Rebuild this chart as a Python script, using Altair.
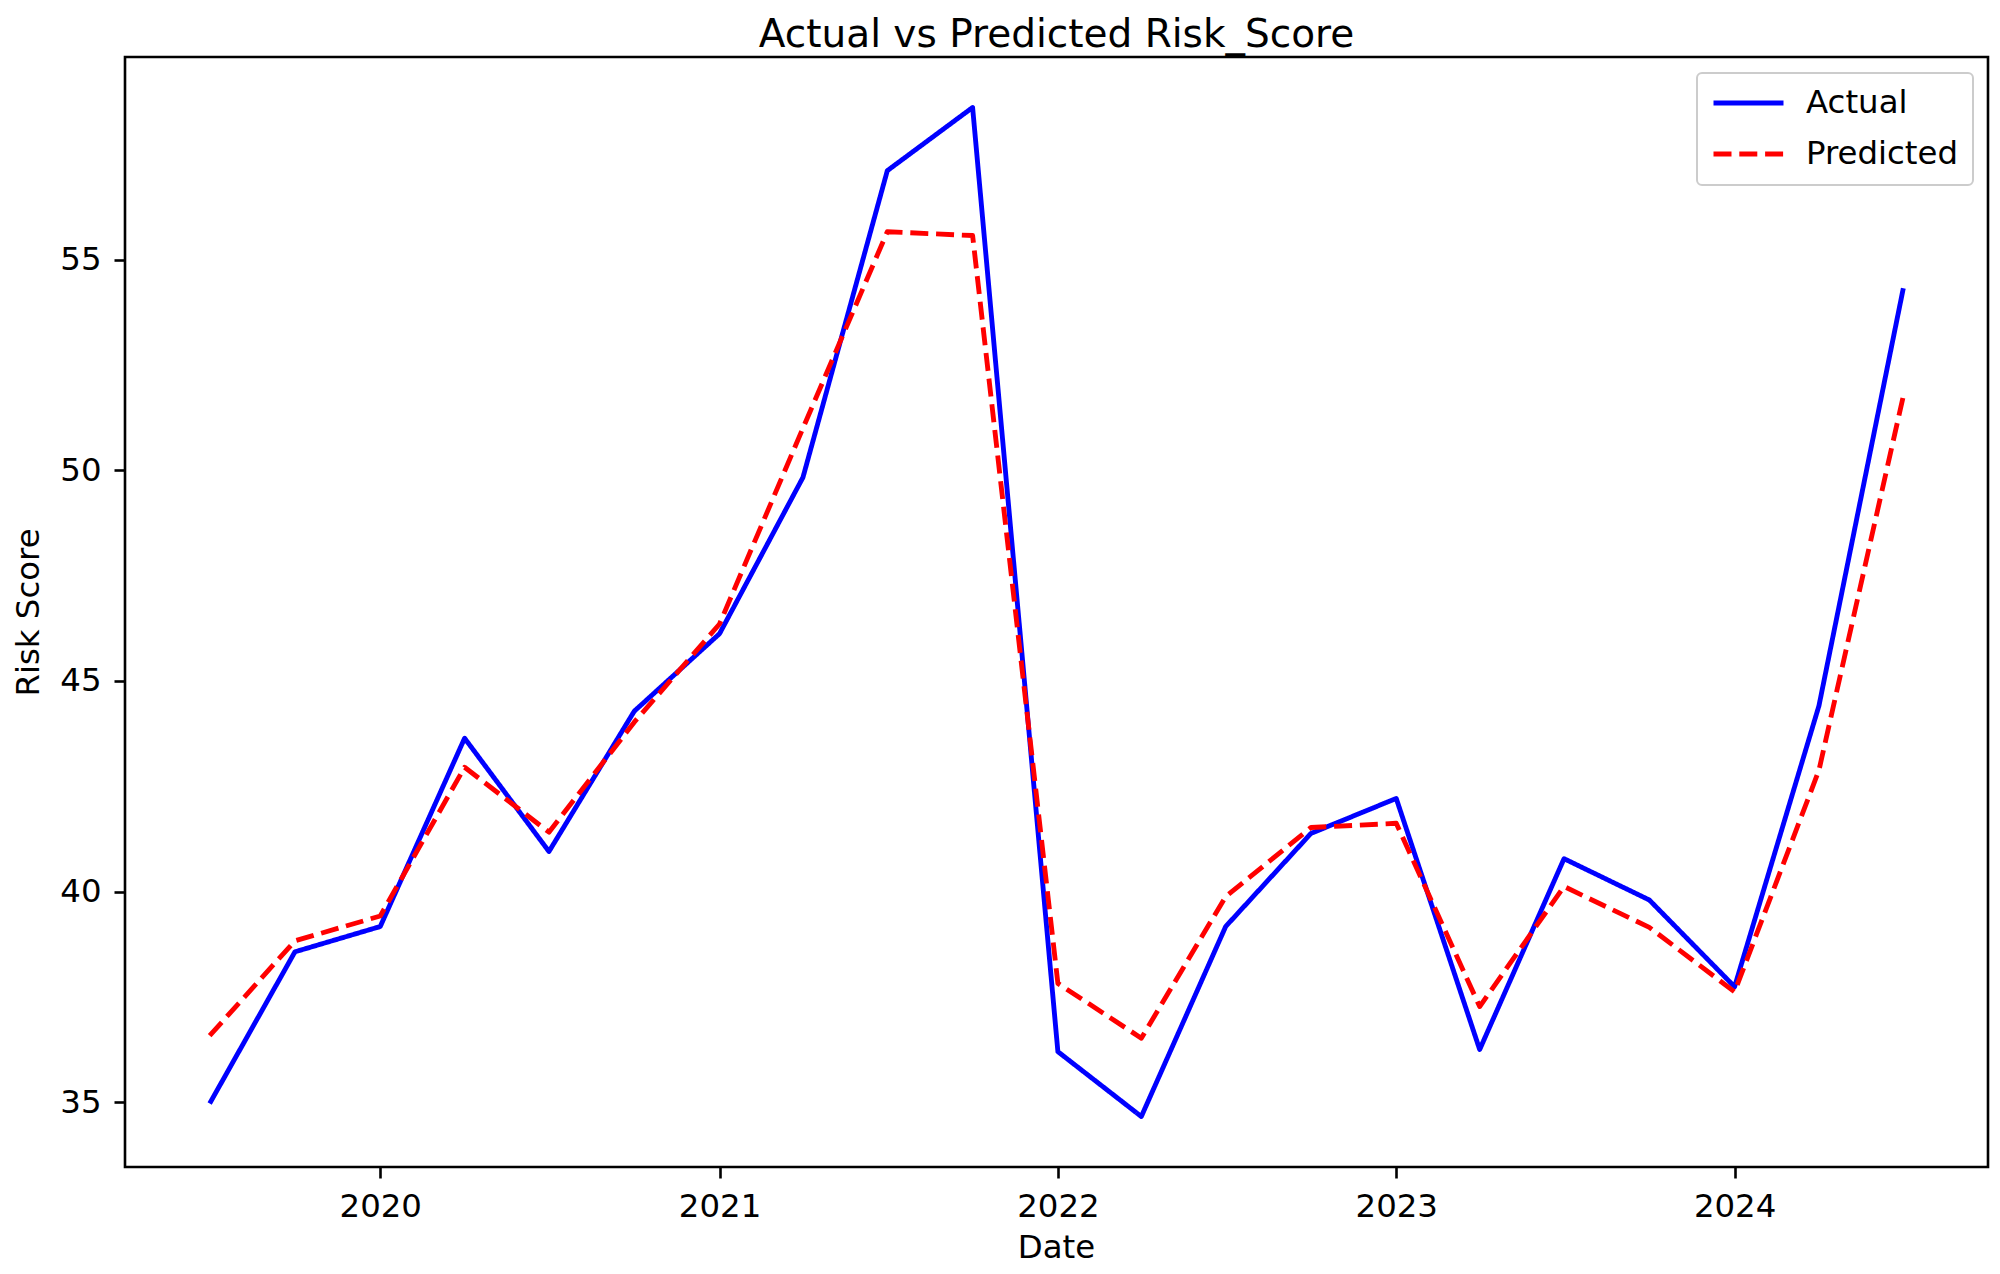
import altair as alt
import pandas as pd

# ---- data ----
dates = ["2019-07-01", "2019-10-01", "2020-01-01", "2020-04-01", "2020-07-01",
         "2020-10-01", "2021-01-01", "2021-04-01", "2021-07-01", "2021-10-01",
         "2022-01-01", "2022-04-01", "2022-07-01", "2022-10-01", "2023-01-01",
         "2023-04-01", "2023-07-01", "2023-10-01", "2024-01-01", "2024-04-01",
         "2024-07-01"]
actual = [34.97, 38.57, 39.17, 43.64, 40.95, 44.28, 46.12, 49.83, 57.11, 58.61,
          36.20, 34.66, 39.17, 41.38, 42.21, 36.25, 40.78, 39.80, 37.74, 44.41,
          54.32]
predicted = [36.58, 38.83, 39.42, 42.95, 41.41, 44.02, 46.35, 51.00, 55.66, 55.57,
             37.82, 36.52, 39.88, 41.52, 41.62, 37.27, 40.12, 39.15, 37.62, 42.88,
             51.76]
series_names = ["Actual", "Predicted"]
series_colors = ["#0000ff", "#ff0000"]
series_dashes = [[1, 0], [18, 7.8]]
year_ticks = [2020, 2021, 2022, 2023, 2024]
y_ticks = [35, 40, 45, 50, 55]

rows = []
for d, a in zip(dates, actual):
    rows.append({"date": d, "value": a, "series": "Actual"})
for d, p in zip(dates, predicted):
    rows.append({"date": d, "value": p, "series": "Predicted"})
df = pd.DataFrame(rows)

# matplotlib-like 5% margins
t = pd.to_datetime(pd.Series(dates))
span = t.max() - t.min()
x_lo = int((t.min() - 0.05 * span).value // 10**6)
x_hi = int((t.max() + 0.05 * span).value // 10**6)
allv = actual + predicted
vr = max(allv) - min(allv)
y_lo = min(allv) - 0.05 * vr
y_hi = max(allv) + 0.05 * vr
x_tick_vals = [int(pd.Timestamp(f"{y}-01-01").value // 10**6) for y in year_ticks]

FONT = "DejaVu Sans"

legend = alt.Legend(
    title=None, orient="none", legendX=1572, legendY=16,
    symbolType="stroke", symbolSize=4900, symbolStrokeWidth=4.86,
    clipHeight=32, labelFont=FONT, labelFontSize=32.4, labelColor="black",
    labelOffset=20, rowPadding=18, padding=14, fillColor="white",
    strokeColor="#cccccc", cornerRadius=5, labelBaseline="middle",
)

chart = alt.Chart(df).mark_line(strokeWidth=4.86, strokeJoin="round").encode(
    x=alt.X("date:T",
            scale=alt.Scale(type="utc", domain=[x_lo, x_hi], nice=False),
            axis=alt.Axis(values=x_tick_vals, format="%Y", formatType="utc",
                          labelPadding=12, titleX=931, titleY=90,
                          titleAlign="center", titleBaseline="alphabetic",
                          labelFlush=False, labelOverlap=False),
            title="Date"),
    y=alt.Y("value:Q",
            scale=alt.Scale(domain=[y_lo, y_hi], nice=False, zero=False),
            axis=alt.Axis(values=y_ticks, labelPadding=13, titleX=-87, titleY=555,
                          titleAngle=270, titleAlign="center",
                          titleBaseline="alphabetic"),
            title="Risk Score"),
    color=alt.Color("series:N",
                    scale=alt.Scale(domain=series_names, range=series_colors),
                    legend=legend),
    strokeDash=alt.StrokeDash("series:N",
                              scale=alt.Scale(domain=series_names, range=series_dashes),
                              legend=legend),
).properties(
    width=1863, height=1110,
    autosize=alt.AutoSizeParams(type="none"),
    padding={"left": 117, "top": 49, "right": 4, "bottom": 100},
    background="white",
    title=alt.TitleParams("Actual vs Predicted Risk_Score", font=FONT,
                          fontSize=39, fontWeight="normal", color="black",
                          anchor="middle", baseline="alphabetic", offset=11, dy=40),
).configure_view(
    stroke="black", strokeWidth=2.6
).configure_axis(
    labelFont=FONT, labelFontSize=32.4, labelColor="black",
    titleFont=FONT, titleFontSize=32.4, titleColor="black", titleFontWeight="normal",
    tickColor="black", tickWidth=2.6, tickSize=11, domain=False, grid=False,
).configure_legend(
    strokeWidth=2
)

chart.save("out.html", embed_options={"renderer": "svg", "actions": False})
